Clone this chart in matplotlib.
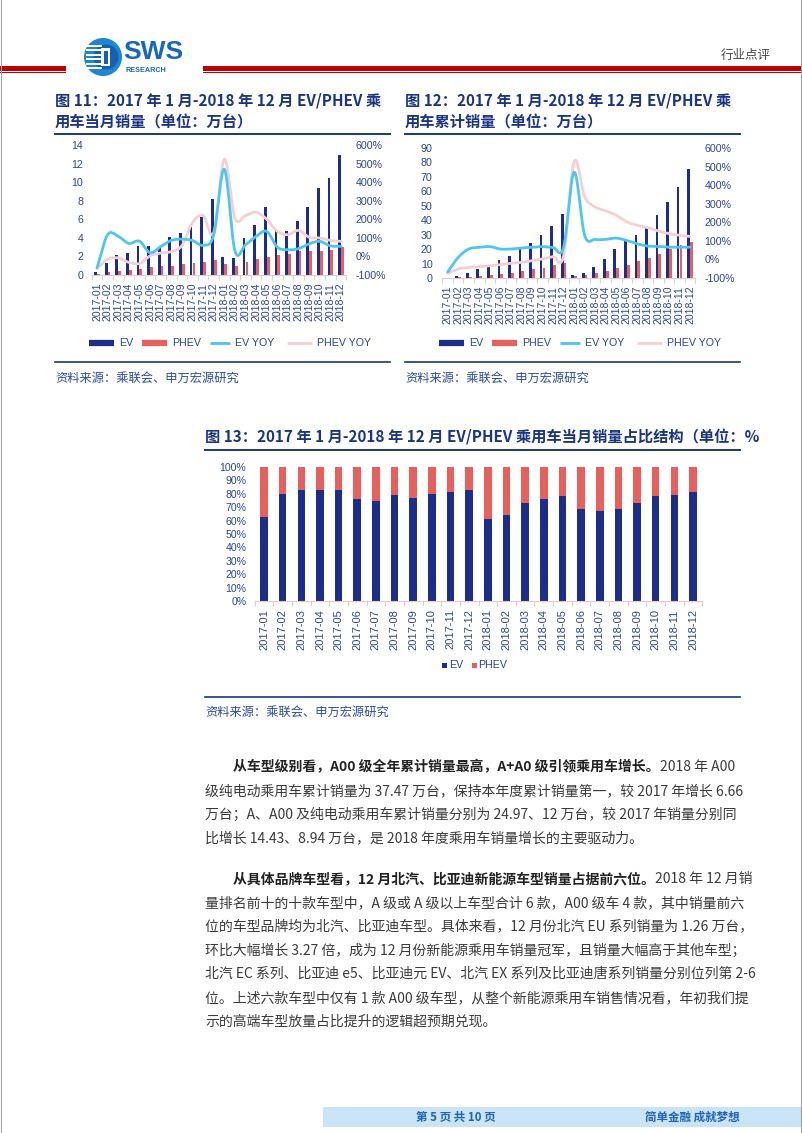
import numpy as np
import matplotlib
matplotlib.use('Agg')
import matplotlib.pyplot as plt
from matplotlib.patches import Rectangle, Circle
from matplotlib.ticker import FuncFormatter, FixedLocator

# ---------------- data ----------------
months = ['2017-01', '2017-02', '2017-03', '2017-04', '2017-05', '2017-06',
          '2017-07', '2017-08', '2017-09', '2017-10', '2017-11', '2017-12',
          '2018-01', '2018-02', '2018-03', '2018-04', '2018-05', '2018-06',
          '2018-07', '2018-08', '2018-09', '2018-10', '2018-11', '2018-12']

# Fig 11: monthly sales (10k units) and YoY
ev_month = [0.3, 1.3, 2.2, 2.4, 3.1, 3.1, 3.0, 4.1, 4.5, 5.2, 6.3, 8.2,
            1.9, 1.8, 4.0, 5.4, 7.3, 4.9, 4.7, 5.8, 7.3, 9.4, 10.4, 12.9]
phev_month = [0.15, 0.3, 0.4, 0.5, 0.6, 0.9, 1.0, 1.0, 1.2, 1.3, 1.4, 1.6,
              1.2, 1.0, 1.4, 1.7, 1.9, 2.2, 2.3, 2.6, 2.6, 2.6, 2.7, 3.0]
ev_month_yoy = [-0.62, 1.17, 1.08, 0.70, 0.82, 0.20, 0.53, 0.86, 0.93, 0.86, 0.60, 1.15,
                4.70, 0.30, 0.63, 1.08, 1.35, 0.50, 0.36, 0.42, 0.68, 0.81, 0.57, 0.54]
phev_month_yoy = [-0.64, -0.15, -0.08, -0.32, -0.38, 0.03, 0.18, 0.26, 0.58, 1.82, 2.20, 1.26,
                  5.24, 2.07, 2.20, 2.38, 2.00, 1.35, 1.17, 1.40, 1.03, 0.99, 0.86, 0.81]

# Fig 12: cumulative sales (10k units) and YoY
ev_cum = [0.3, 1.6, 3.7, 6.1, 8.3, 12.2, 15.5, 20.1, 24.3, 29.6, 36.0, 44.4,
          1.9, 3.7, 7.6, 13.0, 20.3, 25.3, 30.1, 35.6, 43.3, 52.5, 63.0, 75.8]
phev_cum = [0.15, 0.4, 0.8, 1.3, 1.8, 2.7, 3.7, 4.7, 5.9, 7.2, 8.7, 10.3,
            1.1, 2.1, 3.5, 5.1, 7.0, 9.2, 11.5, 14.0, 16.8, 19.8, 22.6, 25.2]
ev_cum_yoy = [-0.68, 0.11, 0.56, 0.65, 0.69, 0.56, 0.56, 0.62, 0.65, 0.69, 0.65, 0.65,
              4.70, 1.30, 1.08, 1.08, 1.15, 1.02, 0.84, 0.72, 0.70, 0.66, 0.66, 0.66]
phev_cum_yoy = [-0.75, -0.52, -0.43, -0.39, -0.34, -0.28, -0.21, -0.16, -0.07, 0.02, 0.15, 0.20,
                5.27, 3.38, 2.83, 2.62, 2.38, 2.02, 1.84, 1.71, 1.53, 1.39, 1.30, 1.24]

# Fig 13: monthly share (%)
ev_share = [63, 80, 83, 83, 83, 76, 75, 79, 77, 80, 81, 83,
            61, 64, 73, 76, 78, 69, 67, 69, 73, 78, 79, 81]
phev_share = [37, 20, 17, 17, 17, 24, 25, 21, 23, 20, 19, 17,
              39, 36, 27, 24, 22, 31, 33, 31, 27, 22, 21, 19]

left_ticks_11 = [0, 2, 4, 6, 8, 10, 12, 14]
left_ticks_12 = [0, 10, 20, 30, 40, 50, 60, 70, 80, 90]
right_ticks = [-1, 0, 1, 2, 3, 4, 5, 6]
share_ticks = [0, 10, 20, 30, 40, 50, 60, 70, 80, 90, 100]

# ---------------- style ----------------
EV_C = '#1c2d8c'
PH_C = '#e8605e'
EVY_C = '#4ec6ef'
PHY_C = '#f6d0d0'
TICK_C = '#2c4494'
TITLE_C = '#1b3585'
SRC_C = '#2a4a9c'
BODY_C = '#3a3a3a'
CJK = 'Noto Sans CJK SC'
CHART_FONT = ['Liberation Sans', CJK]

plt.rcParams['font.family'] = [CJK, 'DejaVu Sans']

W, H = 802, 1133
fig = plt.figure(figsize=(W / 100, H / 100), dpi=100)
page = fig.add_axes([0, 0, 1, 1])
page.set_xlim(0, W)
page.set_ylim(H, 0)
page.axis('off')


def ax_px(l, t, r, b):
    return fig.add_axes([l / W, 1 - b / H, (r - l) / W, (b - t) / H])


def smooth(x, y, n=14):
    P = np.column_stack([np.asarray(x, float), np.asarray(y, float)])
    P = np.vstack([2 * P[0] - P[1], P, 2 * P[-1] - P[-2]])
    t = np.linspace(0, 1, n, endpoint=False)[:, None]
    segs = []
    for i in range(1, len(P) - 2):
        p0, p1, p2, p3 = P[i - 1], P[i], P[i + 1], P[i + 2]
        segs.append(0.5 * (2 * p1 + (-p0 + p2) * t + (2 * p0 - 5 * p1 + 4 * p2 - p3) * t ** 2
                           + (-p0 + 3 * p1 - 3 * p2 + p3) * t ** 3))
    segs.append(P[-2][None, :])
    S = np.vstack(segs)
    return S[:, 0], S[:, 1]


def style_cat_axis(ax, labels, fs, pad, axis_c='#dcd0d0'):
    n = len(labels)
    x = np.arange(n)
    ax.set_xlim(-0.5, n - 0.5)
    ax.set_xticks(x)
    ax.set_xticklabels(labels, rotation=90, fontsize=fs, color=TICK_C, family=CHART_FONT)
    ax.tick_params(axis='x', which='major', length=0, pad=pad)
    ax.xaxis.set_minor_locator(FixedLocator(np.arange(-0.5, n, 1.0)))
    ax.tick_params(axis='x', which='minor', length=3.5, width=0.8, color=axis_c, direction='out')
    for s in ['top', 'left', 'right']:
        ax.spines[s].set_visible(False)
    ax.spines['bottom'].set_color(axis_c)
    ax.spines['bottom'].set_linewidth(0.8)
    ax.set_facecolor('none')


def combo_chart(box, ev, ph, evy, phy, yl, yticks, lpad, rpad, xpad):
    ax = ax_px(*box)
    x = np.arange(len(months))
    ax.bar(x - 0.135, ev, width=0.26, color=EV_C, zorder=2)
    ax.bar(x + 0.135, ph, width=0.26, color=PH_C, zorder=2)
    style_cat_axis(ax, months, 7.6, xpad)
    ax.set_ylim(*yl)
    ax.set_yticks(yticks)
    ax.tick_params(axis='y', length=0, pad=lpad, labelsize=7.7, labelcolor=TICK_C)
    for lab in ax.get_yticklabels():
        lab.set_family(CHART_FONT)
    ax2 = ax.twinx()
    ax2.set_ylim(-1, 6)
    ax2.set_yticks(right_ticks)
    ax2.yaxis.set_major_formatter(FuncFormatter(lambda v, p: f'{v * 100:.0f}%'))
    ax2.tick_params(axis='y', length=0, pad=rpad, labelsize=7.7, labelcolor=TICK_C)
    for lab in ax2.get_yticklabels():
        lab.set_family(CHART_FONT)
    for s in ax2.spines.values():
        s.set_visible(False)
    sx, sy = smooth(x, phy)
    ax2.plot(sx, sy, color=PHY_C, lw=2.0, solid_capstyle='round', zorder=3)
    sx, sy = smooth(x, evy)
    ax2.plot(sx, sy, color=EVY_C, lw=2.0, solid_capstyle='round', zorder=4)
    return ax, ax2


# ---------------- page furniture ----------------
page.plot([0.6, 0.6], [0, H], color='#a0a0a0', lw=0.8)
page.plot([801.4, 801.4], [0, H], color='#a0a0a0', lw=0.8)
# red header rules
for (x0, x1) in [(0, 66), (203, 802)]:
    page.add_patch(Rectangle((x0, 65.5), x1 - x0, 5.0, color='#c00000', lw=0))
    page.add_patch(Rectangle((x0, 71.8), x1 - x0, 1.5, color='#c00000', lw=0))
# logo
page.add_patch(Circle((103, 57), 19, color='#1e86d4', lw=0))
page.add_patch(Circle((106, 57), 12.5, color='#1560b0', lw=0))
for k, yy in enumerate([46, 50.5, 55, 59.5, 64, 68.5]):
    page.add_patch(Rectangle((86 + (1 if k in (0, 5) else 0), yy - 1.2), 15, 2.2, color='white', lw=0))
page.add_patch(Rectangle((101, 48), 9, 18, color='white', lw=0))
page.add_patch(Rectangle((103.5, 50.5), 4, 13, color='#1560b0', lw=0))
page.text(123, 52, 'SWS', fontsize=19, fontweight='bold', color='#1a66bf',
          family=['Liberation Sans'], va='center', ha='left')
page.text(125, 70.5, 'RESEARCH', fontsize=5.2, fontweight='bold', color='#1a66bf',
          family=['Liberation Sans'], va='center', ha='left')
page.text(771, 55, '行业点评', fontsize=9, color='#454545', va='center', ha='right')

# titles
def title_block(x, x_end, lines, y0, underline_y):
    for i, s in enumerate(lines):
        page.text(x, y0 + i * 22.5, s, fontsize=11, fontweight='bold', color=TITLE_C,
                  va='center', ha='left', family=[CJK, 'DejaVu Sans'])
    page.plot([x, x_end], [underline_y, underline_y], color=TITLE_C, lw=1.4)


title_block(55, 390, ['图 11：2017 年 1 月-2018 年 12 月 EV/PHEV 乘', '用车当月销量（单位：万台）'], 100, 133.5)
title_block(405, 740, ['图 12：2017 年 1 月-2018 年 12 月 EV/PHEV 乘', '用车累计销量（单位：万台）'], 100, 133.5)
title_block(205, 740, ['图 13：2017 年 1 月-2018 年 12 月 EV/PHEV 乘用车当月销量占比结构（单位：%'], 437, 449.5)

# sources
def source(x, x_end, y_line, y_text):
    page.plot([x, x_end], [y_line, y_line], color=TITLE_C, lw=1.2)
    page.text(x, y_text, '资料来源：乘联会、申万宏源研究', fontsize=8.8, color=SRC_C,
              va='center', ha='left')


source(55, 390, 362, 378)
source(405, 740, 362, 378)
source(205, 740, 697, 712)

# ---------------- charts ----------------
combo_chart((91.7, 145, 346.3, 275), ev_month, phev_month, ev_month_yoy, phev_month_yoy,
            (0, 14), left_ticks_11, 6.0, 6.5, 5.5)
combo_chart((442.4, 148, 695.3, 278), ev_cum, phev_cum, ev_cum_yoy, phev_cum_yoy,
            (0, 90), left_ticks_12, 7.0, 6.5, 5.5)


def combo_legend(x0, y):
    items = [('EV', EV_C, 4.5, 25), ('PHEV', PH_C, 4.5, 25), ('EV YOY', EVY_C, 2.0, 20),
             ('PHEV YOY', PHY_C, 2.0, 25)]
    offsets = [0, 53, 121, 198]
    for (lab, c, lw, ln), dx in zip(items, offsets):
        page.plot([x0 + dx, x0 + dx + ln], [y, y], color=c, lw=lw, solid_capstyle='butt')
        page.text(x0 + dx + ln + 5, y, lab, fontsize=7.7, color=TICK_C, va='center', ha='left',
                  family=CHART_FONT)


combo_legend(89, 343)
combo_legend(439, 343)

# chart 13
ax3 = ax_px(254.7, 467, 702.3, 601)
x = np.arange(len(months))
ax3.bar(x, ev_share, width=0.41, color=EV_C, zorder=2)
ax3.bar(x, phev_share, width=0.41, bottom=ev_share, color=PH_C, zorder=2)
style_cat_axis(ax3, months, 8.0, 6, axis_c='#e6caca')
ax3.set_ylim(0, 100)
ax3.set_yticks(share_ticks)
ax3.yaxis.set_major_formatter(FuncFormatter(lambda v, p: f'{v:.0f}%'))
ax3.tick_params(axis='y', length=0, pad=6, labelsize=7.6, labelcolor=TICK_C)
for lab in ax3.get_yticklabels():
    lab.set_family(CHART_FONT)

page.add_patch(Rectangle((442, 662.5), 5, 5, color=EV_C, lw=0))
page.text(449, 665.5, 'EV', fontsize=7.7, color=TICK_C, va='center', ha='left', family=CHART_FONT)
page.add_patch(Rectangle((471.5, 662.5), 5, 5, color=PH_C, lw=0))
page.text(478.5, 665.5, 'PHEV', fontsize=7.7, color=TICK_C, va='center', ha='left', family=CHART_FONT)

# ---------------- body text ----------------
renderer = fig.canvas.get_renderer()
FS = 10.0


def rich_line(x, y, parts):
    for s, bold in parts:
        t = page.text(x, y, s, fontsize=FS, fontweight='bold' if bold else 'normal',
                      color='#222222' if bold else BODY_C, va='center', ha='left',
                      family=[CJK, 'DejaVu Sans'])
        x += t.get_window_extent(renderer=renderer).width


LH = 23.8
p1 = [
    [('从车型级别看，A00 级全年累计销量最高，A+A0 级引领乘用车增长。', True), ('2018 年 A00', False)],
    [('级纯电动乘用车累计销量为 37.47 万台，保持本年度累计销量第一，较 2017 年增长 6.66', False)],
    [('万台；A、A00 及纯电动乘用车累计销量分别为 24.97、12 万台，较 2017 年销量分别同', False)],
    [('比增长 14.43、8.94 万台，是 2018 年度乘用车销量增长的主要驱动力。', False)],
]
p2 = [
    [('从具体品牌车型看，12 月北汽、比亚迪新能源车型销量占据前六位。', True), ('2018 年 12 月销', False)],
    [('量排名前十的十款车型中，A 级或 A 级以上车型合计 6 款，A00 级车 4 款，其中销量前六', False)],
    [('位的车型品牌均为北汽、比亚迪车型。具体来看，12 月份北汽 EU 系列销量为 1.26 万台，', False)],
    [('环比大幅增长 3.27 倍，成为 12 月份新能源乘用车销量冠军，且销量大幅高于其他车型；', False)],
    [('北汽 EC 系列、比亚迪 e5、比亚迪元 EV、北汽 EX 系列及比亚迪唐系列销量分别位列第 2-6', False)],
    [('位。上述六款车型中仅有 1 款 A00 级车型，从整个新能源乘用车销售情况看，年初我们提', False)],
    [('示的高端车型放量占比提升的逻辑超预期兑现。', False)],
]
for i, parts in enumerate(p1):
    rich_line(233 if i == 0 else 205, 767 + i * LH, parts)
for i, parts in enumerate(p2):
    rich_line(233 if i == 0 else 205, 879 + i * LH, parts)

# ---------------- footer ----------------
page.add_patch(Rectangle((323, 1107), 802 - 323, 20, color='#c8e4f6', lw=0))
page.text(456, 1117, '第 5 页 共 10 页', fontsize=8.3, fontweight='bold', color='#2262b5',
          va='center', ha='center')
page.text(740, 1117, '简单金融 成就梦想', fontsize=8.3, fontweight='bold', color='#2262b5',
          va='center', ha='right')

fig.savefig('out.png', dpi=100)
